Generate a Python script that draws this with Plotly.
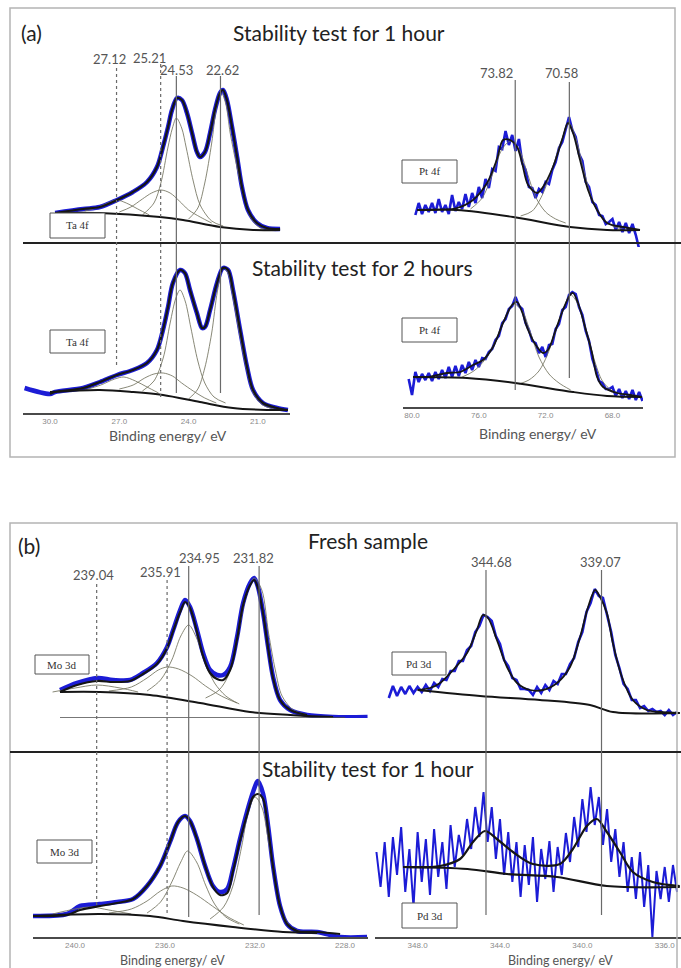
import numpy as np
import plotly.graph_objects as go

W, H = 681, 968

# ---------------- DATA (binding energy in eV, intensity in a.u.) ----------------
# Ta 4f, stability 1 h
TA1_BE = [29.78, 28.57, 27.84, 27.10, 26.41, 25.80, 25.37, 25.11, 24.89, 24.72, 24.50, 24.29, 24.07, 23.85, 23.64,
          23.51, 23.29, 23.07, 22.86, 22.64, 22.51, 22.34, 22.12, 21.90, 21.69, 21.43, 21.04, 20.61, 20.04]
TA1_I = [30, 34, 36, 43, 51, 61, 76, 96, 116, 133, 145, 143, 130, 110, 91, 86, 91, 110, 133, 150, 153, 143, 116, 86,
         56, 33, 20, 15, 14]
TA1_BG_BE = [29.78, 27.84, 25.24, 24.24, 22.64, 21.21, 20.04]
TA1_BG = [30, 30, 26, 23, 16, 13, 13]
TA1_C1_BE = [28.5, 28.0, 27.5, 27.12, 26.7, 26.2, 25.7]
TA1_C1 = [32, 35, 40, 43, 40, 34, 28]
TA1_C2_BE = [27.0, 26.5, 26.0, 25.6, 25.2, 24.8, 24.4, 24.0, 23.5, 23.0]
TA1_C2 = [31, 36, 44, 50, 53, 50, 42, 33, 26, 20]
TA1_C3_BE = [26.0, 25.5, 25.2, 24.9, 24.7, 24.53, 24.3, 24.1, 23.8, 23.5, 23.0, 22.5]
TA1_C3 = [28, 40, 60, 95, 115, 125, 115, 95, 62, 38, 22, 17]
TA1_C4_BE = [24.0, 23.6, 23.3, 23.0, 22.8, 22.62, 22.4, 22.2, 21.9, 21.6, 21.3, 20.9, 20.4]
TA1_C4 = [24, 35, 60, 100, 135, 152, 140, 110, 75, 45, 25, 15, 13]

# Ta 4f, stability 2 h
TA2_BE = [31.1, 30.0, 29.78, 28.57, 27.84, 27.10, 26.41, 25.80, 25.37, 25.11, 24.89, 24.68, 24.37, 24.16, 23.94,
          23.64, 23.42, 23.29, 23.07, 22.77, 22.51, 22.29, 22.08, 21.77, 21.47, 21.21, 20.78, 20.17, 19.70]
TA2_I = [25, 19, 21, 25, 31, 38, 43, 50, 63, 83, 106, 130, 143, 140, 123, 100, 85, 86, 103, 130, 145, 143, 123, 83,
         46, 23, 10, 5, 3]
TA2_BG_BE = [30.0, 27.84, 26.41, 25.11, 23.51, 22.08, 20.61, 19.7]
TA2_BG = [21, 23, 21, 18, 11, 5, 3, 3]
TA2_C1_BE = [28.5, 27.8, 27.2, 26.8, 26.3, 25.8, 25.3]
TA2_C1 = [23, 28, 34, 36, 32, 26, 20]
TA2_C2_BE = [27.0, 26.4, 25.9, 25.5, 25.1, 24.7, 24.3, 23.8, 23.3, 22.8]
TA2_C2 = [24, 28, 35, 39, 40, 37, 30, 22, 15, 10]
TA2_C3_BE = [26.0, 25.5, 25.1, 24.8, 24.55, 24.37, 24.15, 23.9, 23.6, 23.3, 22.9, 22.4]
TA2_C3 = [22, 32, 55, 90, 115, 123, 112, 85, 52, 30, 16, 10]
TA2_C4_BE = [24.0, 23.6, 23.3, 23.0, 22.75, 22.5, 22.3, 22.05, 21.8, 21.5, 21.2, 20.8, 20.3]
TA2_C4 = [14, 24, 45, 80, 122, 145, 140, 112, 80, 45, 20, 8, 4]

# Pt 4f, stability 1 h (raw, 0.2 eV steps from 79.8 eV downwards)
PT1_RAW_START = 79.8
PT1_RAW = [28, 40, 29, 38, 31, 40, 30, 44, 31, 38,
           29, 48, 32, 41, 34, 49, 36, 50, 40, 56,
           45, 64, 55, 74, 72, 96, 94, 112, 98, 108,
           92, 104, 80, 73, 56, 55, 45, 54, 51, 61,
           59, 73, 81, 95, 101, 115, 126, 113, 106, 89,
           82, 61, 56, 41, 38, 28, 27, 19, 21, 24,
           13, 21, 11, 20, 10, 19, 8, -6]
PT1_FIT_BE = [79.70, 77.31, 76.35, 75.51, 74.91, 74.55, 74.13, 73.71, 73.41, 73.05, 72.51, 72.16, 71.56, 71.02,
              70.66, 70.36, 69.94, 69.46, 68.92, 68.32, 67.37, 66.35]
PT1_FIT = [33, 35, 43, 60, 84, 103, 103, 96, 80, 58, 50, 56, 76, 103, 120, 110, 83, 53, 33, 20, 16, 13]
PT1_BG_BE = [79.70, 77.31, 73.95, 70.54, 68.32, 66.35]
PT1_BG = [33, 33, 26, 16, 13, 13]
PT1_C1_BE = [76.5, 75.8, 75.2, 74.6, 74.1, 73.6, 73.1, 72.6, 72.0, 71.4, 70.8]
PT1_C1 = [34, 45, 68, 94, 102, 94, 70, 46, 31, 24, 20]
PT1_C2_BE = [73.5, 72.8, 72.2, 71.6, 71.0, 70.6, 70.2, 69.7, 69.2, 68.6, 68.0, 67.4]
PT1_C2 = [27, 32, 48, 75, 105, 120, 105, 72, 43, 25, 17, 14]

# Pt 4f, stability 2 h (raw, 0.2 eV steps from 80.2 eV downwards)
PT2_RAW_START = 80.2
PT2_RAW = [28, 12, 35, 25, 33, 27, 34, 26, 35, 28,
           37, 29, 40, 30, 41, 31, 42, 34, 45, 37,
           47, 40, 49, 48, 55, 58, 67, 71, 84, 88,
           98, 101, 110, 101, 98, 84, 77, 66, 64, 54,
           60, 50, 62, 63, 78, 83, 97, 100, 112, 115,
           113, 100, 92, 76, 66, 48, 38, 26, 24, 18,
           18, 20, 11, 18, 9, 16, 8, 17, 7, 15, 6]
PT2_FIT_BE = [79.94, 79.1, 77.9, 77.13, 76.35, 75.75, 75.15, 74.55, 74.01, 73.71, 73.41, 73.05, 72.51, 72.16, 71.86,
              71.44, 70.96, 70.54, 70.36, 70.06, 69.64, 69.22, 68.92, 68.56, 67.72, 66.95, 66.23]
PT2_FIT = [30, 30, 34, 35, 42, 47, 60, 84, 102, 105, 95, 77, 60, 54, 57, 75, 97, 112, 114, 104, 80, 54, 30, 20, 14,
           12, 10]
PT2_BG_BE = [79.94, 76.71, 73.83, 70.36, 68.32, 66.23]
PT2_BG = [30, 29, 24, 15, 11, 10]
PT2_C1_BE = [77.0, 76.3, 75.6, 75.0, 74.4, 73.9, 73.4, 72.9, 72.4, 71.8, 71.2, 70.5]
PT2_C1 = [30, 36, 48, 66, 90, 103, 96, 74, 50, 33, 24, 17]
PT2_C2_BE = [73.6, 73.0, 72.4, 71.9, 71.4, 70.9, 70.5, 70.1, 69.6, 69.1, 68.6, 68.0, 67.3]
PT2_C2 = [23, 27, 36, 52, 76, 100, 112, 104, 78, 48, 26, 16, 12]

# Mo 3d, fresh
MO1_BE = [240.67, 239.91, 239.02, 238.31, 237.56, 236.98, 236.36, 235.91, 235.64, 235.33, 235.11, 234.89, 234.58,
          234.31, 234.0, 233.69, 233.42, 233.11, 232.80, 232.53, 232.22, 232.04, 231.87, 231.64, 231.42, 231.20,
          230.89, 230.44, 229.69, 228.53, 227.0]
MO1_DATA = [28, 35, 40, 38, 38, 45, 55, 71, 88, 108, 118, 111, 88, 65, 48, 43, 43, 51, 81, 115, 135, 140, 131, 105,
            71, 41, 18, 8, 3, 1, 1]
MO1_FIT = [26, 33, 37, 36, 37, 44, 54, 70, 87, 106, 116, 110, 86, 62, 45, 39, 38, 48, 79, 113, 133, 138, 130, 104,
           70, 40, 18, 8, 3, 1, 1]
MO1_BG_BE = [240.67, 238.89, 236.67, 234.44, 232.22, 230.44, 228.53]
MO1_BG = [26, 26, 23, 15, 6, 3, 1]
MO1_C1_BE = [241.0, 240.0, 239.04, 238.0, 237.2]
MO1_C1 = [26, 30, 33, 30, 26]
MO1_C2_BE = [238.5, 237.5, 236.8, 236.3, 235.9, 235.4, 234.8, 234.2, 233.5, 232.8]
MO1_C2 = [27, 31, 40, 48, 51, 49, 42, 32, 22, 15]
MO1_C3_BE = [236.8, 236.2, 235.7, 235.3, 234.95, 234.6, 234.2, 233.8, 233.3, 232.7]
MO1_C3 = [27, 38, 58, 82, 93, 80, 55, 35, 22, 14]
MO1_C4_BE = [234.2, 233.6, 233.2, 232.8, 232.4, 232.04, 231.7, 231.4, 231.1, 230.8, 230.3, 229.8]
MO1_C4 = [20, 28, 42, 78, 122, 140, 128, 85, 48, 22, 8, 4]

# Mo 3d, stability 1 h
MO2_BE = [241.87, 240.36, 239.78, 238.89, 238.13, 237.42, 236.8, 236.22, 235.78, 235.42, 235.11, 234.89, 234.58,
          234.22, 233.87, 233.56, 233.24, 232.98, 232.67, 232.36, 232.09, 231.87, 231.64, 231.42, 231.2, 230.89,
          230.58, 230.13, 229.24, 228.22, 227.02]
MO2_DATA = [21, 23, 31, 33, 35, 38, 51, 71, 95, 115, 121, 116, 98, 71, 51, 45, 48, 68, 98, 125, 145, 156, 143, 111,
            71, 31, 13, 6, 5, 0, 0]
MO2_FIT = [21, 22, 27, 31, 34, 38, 51, 71, 95, 115, 121, 116, 98, 71, 50, 42, 44, 66, 96, 122, 140, 143, 138, 108,
           70, 31, 13, 6, 5, 3, 2]
MO2_BG_BE = [241.87, 238.89, 236.67, 235.2, 232.98, 230.76, 229.24]
MO2_BG = [21, 23, 21, 16, 10, 5, 4]
MO2_C1_BE = [241.0, 240.0, 239.3, 238.5, 237.5]
MO2_C1 = [23, 28, 30, 27, 23]
MO2_C2_BE = [238.5, 237.5, 236.8, 236.2, 235.7, 235.2, 234.6, 233.9, 233.2, 232.5]
MO2_C2 = [24, 28, 36, 46, 51, 49, 42, 31, 20, 12]
MO2_C3_BE = [236.8, 236.2, 235.7, 235.3, 235.0, 234.6, 234.2, 233.8, 233.3, 232.7]
MO2_C3 = [24, 35, 55, 75, 86, 75, 52, 33, 20, 13]
MO2_C4_BE = [234.0, 233.4, 233.0, 232.6, 232.3, 232.0, 231.7, 231.4, 231.1, 230.8, 230.4, 229.9]
MO2_C4 = [18, 30, 50, 90, 125, 140, 130, 95, 55, 25, 10, 5]

# Pd 3d, fresh (raw, 0.2 eV steps from 349.4 eV downwards)
PD1_RAW_START = 349.4
PD1_RAW = [20, 32, 22, 31, 24, 32, 25, 31, 26, 33,
           27, 35, 31, 39, 38, 47, 47, 57, 57, 68,
           72, 86, 92, 103, 101, 97, 82, 74, 58, 52,
           40, 38, 29, 29, 28, 23, 31, 25, 33, 28,
           37, 34, 44, 44, 54, 60, 76, 86, 106, 115,
           129, 122, 120, 102, 86, 63, 50, 34, 29, 18,
           18, 10, 12, 7, 9, 6, 7, 3, 8, 3, 6]
PD1_FIT_BE = [348.0, 347.40, 346.91, 346.28, 345.60, 345.12, 344.83, 344.58, 344.15, 343.66, 343.17, 342.54, 341.91,
              341.23, 340.60, 340.11, 339.72, 339.38, 339.14, 338.81, 338.52, 338.08, 337.55, 336.87, 336.24, 335.27]
PD1_FIT = [28, 30, 35, 48, 65, 88, 103, 100, 78, 51, 35, 28, 28, 35, 51, 81, 111, 128, 121, 105, 75, 41, 18, 8, 6, 5]
PD1_BG_BE = [348.0, 344.97, 342.06, 339.63, 338.51, 335.27]
PD1_BG = [28, 22, 18, 13, 6, 5]

# Pd 3d, stability 1 h (raw, 0.2 eV steps from 350.0 eV downwards)
PD2_RAW_START = 350.0
PD2_RAW = [85, 50, 95, 40, 100, 62, 110, 45, 88, 30, 105, 55, 98, 42, 108, 60, 95, 48, 112, 70, 102, 82, 118, 88,
           130, 100, 145, 95, 130, 78, 118, 62, 105, 55, 95, 40, 92, 52, 100, 35, 88, 58, 96, 45, 90, 62, 104, 75,
           120, 90, 138, 105, 150, 112, 140, 92, 128, 75, 108, 60, 95, 45, 80, 38, 85, 30, 72, 0, 66, 38, 70, 35, 72,
           45]
PD2_FIT_BE = [348.71, 346.91, 345.94, 345.31, 344.73, 344.15, 343.37, 342.40, 341.09, 340.46, 339.78, 339.30, 338.81,
              338.18, 337.55, 336.58, 335.27]
PD2_FIT = [70, 71, 78, 95, 106, 98, 85, 73, 73, 88, 111, 118, 105, 85, 65, 55, 51]
PD2_BG_BE = [348.71, 345.58, 343.66, 341.23, 338.81, 335.27]
PD2_BG = [70, 68, 63, 60, 51, 50]

# Peak positions (labels)
TA_PEAKS = [27.12, 25.21, 24.53, 22.62]
PT_PEAKS = [73.82, 70.58]
MO_PEAKS = [239.04, 235.91, 234.95, 231.82]
PD_PEAKS = [344.68, 339.07]

TA_TICKS = [30, 27, 24, 21]
PT_TICKS = [80, 76, 72, 68]
MO_TICKS = [240, 236, 232, 228]
PD_TICKS = [348, 344, 340, 336]

# ---------------- helpers ----------------
def X(px):
    return px / W


def Y(py):
    return 1 - py / H


BLUE = "#1c1cd6"
BLACK = "#151515"
COMP = "rgba(115,115,95,0.85)"
VLINE = "#6a6a6a"

fig = go.Figure()


def ax_id(n):
    return ("x" if n == 1 else f"x{n}"), ("y" if n == 1 else f"y{n}")


def line(n, x, y, color, width, shape="spline"):
    xa, ya = ax_id(n)
    fig.add_trace(go.Scatter(x=x, y=y, mode="lines", xaxis=xa, yaxis=ya,
                             line=dict(color=color, width=width, shape=shape, smoothing=0.9),
                             showlegend=False, hoverinfo="skip"))


def raw_be(start, vals):
    return list(np.round(start - 0.2 * np.arange(len(vals)), 2))


# Ta top (1)
line(1, TA1_BE, TA1_I, BLUE, 4.5)
for bx, by in [(TA1_C1_BE, TA1_C1), (TA1_C2_BE, TA1_C2), (TA1_C3_BE, TA1_C3), (TA1_C4_BE, TA1_C4)]:
    line(1, bx, by, COMP, 1)
line(1, TA1_BG_BE, TA1_BG, BLACK, 2)
line(1, TA1_BE, TA1_I, BLACK, 2.2)

# Ta bottom (2)
line(2, TA2_BE, TA2_I, BLUE, 4.5)
for bx, by in [(TA2_C1_BE, TA2_C1), (TA2_C2_BE, TA2_C2), (TA2_C3_BE, TA2_C3), (TA2_C4_BE, TA2_C4)]:
    line(2, bx, by, COMP, 1)
line(2, TA2_BG_BE, TA2_BG, BLACK, 2)
line(2, TA2_BE[1:], TA2_I[1:], BLACK, 2.2)

# Pt top (3)
line(3, raw_be(PT1_RAW_START, PT1_RAW), PT1_RAW, BLUE, 2.6, "linear")
for bx, by in [(PT1_C1_BE, PT1_C1), (PT1_C2_BE, PT1_C2)]:
    line(3, bx, by, COMP, 1)
line(3, PT1_BG_BE, PT1_BG, BLACK, 2)
line(3, PT1_FIT_BE, PT1_FIT, BLACK, 1.8)

# Pt bottom (4)
line(4, raw_be(PT2_RAW_START, PT2_RAW), PT2_RAW, BLUE, 2.6, "linear")
for bx, by in [(PT2_C1_BE, PT2_C1), (PT2_C2_BE, PT2_C2)]:
    line(4, bx, by, COMP, 1)
line(4, PT2_BG_BE, PT2_BG, BLACK, 2)
line(4, PT2_FIT_BE, PT2_FIT, BLACK, 1.8)

# Mo fresh (5)
line(5, MO1_BE, MO1_DATA, BLUE, 4.5)
for bx, by in [(MO1_C1_BE, MO1_C1), (MO1_C2_BE, MO1_C2), (MO1_C3_BE, MO1_C3), (MO1_C4_BE, MO1_C4)]:
    line(5, bx, by, COMP, 1)
line(5, MO1_BG_BE, MO1_BG, BLACK, 2)
line(5, MO1_BE[:-2], MO1_FIT[:-2], BLACK, 2.2)

# Mo stability (6)
line(6, MO2_BE, MO2_DATA, BLUE, 4.5)
for bx, by in [(MO2_C1_BE, MO2_C1), (MO2_C2_BE, MO2_C2), (MO2_C3_BE, MO2_C3), (MO2_C4_BE, MO2_C4)]:
    line(6, bx, by, COMP, 1)
line(6, MO2_BG_BE, MO2_BG, BLACK, 2)
line(6, MO2_BE[:-1], MO2_FIT[:-1], BLACK, 2.2)

# Pd fresh (7)
line(7, raw_be(PD1_RAW_START, PD1_RAW), PD1_RAW, BLUE, 2.6, "linear")
line(7, PD1_BG_BE, PD1_BG, BLACK, 2)
line(7, PD1_FIT_BE, PD1_FIT, BLACK, 1.8)

# Pd stability (8)
line(8, raw_be(PD2_RAW_START, PD2_RAW), PD2_RAW, BLUE, 2, "linear")
line(8, PD2_BG_BE, PD2_BG, BLACK, 2.2)
line(8, PD2_FIT_BE, PD2_FIT, BLACK, 2.2)

# ---------------- axes ----------------
AX = {
    1: dict(px=(23, 290), py=(243, 43), xr=(31.17, 19.61), yr=(0, 200), ticks=None),
    2: dict(px=(23, 290), py=(413, 253), xr=(31.17, 19.61), yr=(0, 160), ticks=TA_TICKS),
    3: dict(px=(403, 643), py=(253, 43), xr=(80.54, 66.17), yr=(-10, 200), ticks=None),
    4: dict(px=(403, 643), py=(407, 247), xr=(80.54, 66.17), yr=(0, 160), ticks=PT_TICKS),
    5: dict(px=(33, 368), py=(718, 548), xr=(241.87, 226.98), yr=(0, 170), ticks=None),
    6: dict(px=(33, 368), py=(937, 757), xr=(241.87, 226.98), yr=(0, 180), ticks=MO_TICKS),
    7: dict(px=(375, 681), py=(718, 548), xr=(350.07, 335.21), yr=(0, 170), ticks=None),
    8: dict(px=(375, 681), py=(937, 757), xr=(350.07, 335.21), yr=(0, 180), ticks=PD_TICKS),
}
layout_axes = {}
for n, a in AX.items():
    xk = "xaxis" if n == 1 else f"xaxis{n}"
    yk = "yaxis" if n == 1 else f"yaxis{n}"
    xa, ya = ax_id(n)
    xd = dict(domain=[X(a["px"][0]), X(a["px"][1])], range=list(a["xr"]), anchor=ya,
              showgrid=False, zeroline=False, ticks="", fixedrange=True)
    if a["ticks"]:
        xd.update(showline=True, linecolor="#4a4a4a", linewidth=1.6,
                  tickvals=a["ticks"], ticktext=[f"{t:.1f}" for t in a["ticks"]],
                  tickfont=dict(family="Liberation Sans", size=8, color="#8a8a8a"), showticklabels=True)
    else:
        xd.update(showline=False, showticklabels=False)
    yd = dict(domain=[Y(a["py"][0]), Y(a["py"][1])], range=list(a["yr"]), anchor=xa,
              visible=False, fixedrange=True)
    layout_axes[xk] = xd
    layout_axes[yk] = yd

# ---------------- shapes ----------------
shapes = []
# panel frames
shapes.append(dict(type="rect", xref="paper", yref="paper", x0=X(10), x1=X(675), y0=Y(457), y1=Y(8),
                   line=dict(color="#b4b4b4", width=1.5)))
shapes.append(dict(type="rect", xref="paper", yref="paper", x0=X(10), x1=X(677), y0=Y(990), y1=Y(523),
                   line=dict(color="#b4b4b4", width=1.5)))
# separators
shapes.append(dict(type="line", xref="paper", yref="paper", x0=X(23), x1=X(681), y0=Y(243), y1=Y(243),
                   line=dict(color="#222", width=2.2)))
shapes.append(dict(type="line", xref="paper", yref="paper", x0=X(10), x1=X(681), y0=Y(752), y1=Y(752),
                   line=dict(color="#222", width=2.2)))
# baseline under Mo fresh
shapes.append(dict(type="line", xref="x5", yref="y5", x0=MO1_BE[0], x1=228.0, y0=0, y1=0,
                   line=dict(color="#4a4a4a", width=1.4)))

# vertical peak lines: (value, axis, top px, bottom px, dotted)
VL = [
    (TA_PEAKS[0], "x", 66, 365, True), (TA_PEAKS[1], "x", 64, 397, True),
    (TA_PEAKS[2], "x", 76, 393, False), (TA_PEAKS[3], "x", 76, 393, False),
    (PT_PEAKS[0], "x3", 80, 390, False), (PT_PEAKS[1], "x3", 82, 378, False),
    (MO_PEAKS[0], "x5", 583, 905, True), (MO_PEAKS[1], "x5", 580, 913, True),
    (MO_PEAKS[2], "x5", 566, 917, False), (MO_PEAKS[3], "x5", 566, 915, False),
    (PD_PEAKS[0], "x7", 570, 915, False), (PD_PEAKS[1], "x7", 570, 915, False),
]
for v, xr_, t, b, dot in VL:
    shapes.append(dict(type="line", xref=xr_, yref="paper", x0=v, x1=v, y0=Y(b), y1=Y(t),
                       line=dict(color=VLINE, width=1.2, dash="dot" if dot else "solid"), layer="above"))

# label boxes (x0, y0, x1, y1, text)
BOXES = [
    (50, 213, 105, 238, "Ta 4f"), (50, 330, 105, 353, "Ta 4f"),
    (402, 160, 457, 183, "Pt 4f"), (402, 318, 457, 342, "Pt 4f"),
    (35, 655, 89, 674, "Mo 3d"), (37, 840, 92, 863, "Mo 3d"),
    (392, 652, 446, 675, "Pd 3d"), (402, 903, 457, 928, "Pd 3d"),
]
annotations = []
for x0, y0, x1, y1, t in BOXES:
    shapes.append(dict(type="rect", xref="paper", yref="paper", x0=X(x0), x1=X(x1), y0=Y(y1), y1=Y(y0),
                       line=dict(color="#555", width=1), fillcolor="white", layer="above"))
    annotations.append(dict(xref="paper", yref="paper", x=X((x0 + x1) / 2), y=Y((y0 + y1) / 2), text=t,
                            showarrow=False, xanchor="center", yanchor="middle",
                            font=dict(family="Liberation Serif", size=11, color="#333")))

# peak value labels (text from the peak lists, position in px)
PL = [
    (TA_PEAKS[0], 109, 59), (TA_PEAKS[1], 149, 58), (TA_PEAKS[2], 176, 70), (TA_PEAKS[3], 222, 70),
    (PT_PEAKS[0], 496, 73), (PT_PEAKS[1], 561, 73),
    (MO_PEAKS[0], 93, 575), (MO_PEAKS[1], 160, 572), (MO_PEAKS[2], 199, 558), (MO_PEAKS[3], 253, 558),
    (PD_PEAKS[0], 491, 562), (PD_PEAKS[1], 600, 562),
]
for v, px, py in PL:
    annotations.append(dict(xref="paper", yref="paper", x=X(px), y=Y(py), text=f"{v:.2f}", showarrow=False,
                            xanchor="center", yanchor="middle",
                            font=dict(family="Lato", size=13, color="#555")))

# titles
TITLES = [
    ("(a)", 31, 33, 21, "#222"), ("Stability test for 1 hour", 339, 33, 21, "#222"),
    ("Stability test for 2 hours", 362, 267, 21, "#222"),
    ("(b)", 29, 545, 21, "#222"), ("Fresh sample", 368, 540, 21, "#222"),
    ("Stability test for 1 hour", 368, 768, 21, "#222"),
    ("Binding energy/ eV", 168, 435, 14, "#555"), ("Binding energy/ eV", 538, 433, 14, "#555"),
    ("Binding energy/ eV", 172, 960, 12.5, "#555"), ("Binding energy/ eV", 560, 960, 12.5, "#555"),
]
for t, px, py, sz, col in TITLES:
    annotations.append(dict(xref="paper", yref="paper", x=X(px), y=Y(py), text=t, showarrow=False,
                            xanchor="center", yanchor="middle", font=dict(family="Lato", size=sz, color=col)))

fig.update_layout(width=W, height=H, margin=dict(l=0, r=0, t=0, b=0), paper_bgcolor="white",
                  plot_bgcolor="white", showlegend=False, shapes=shapes, annotations=annotations,
                  **layout_axes)

fig.write_html("out.html")
